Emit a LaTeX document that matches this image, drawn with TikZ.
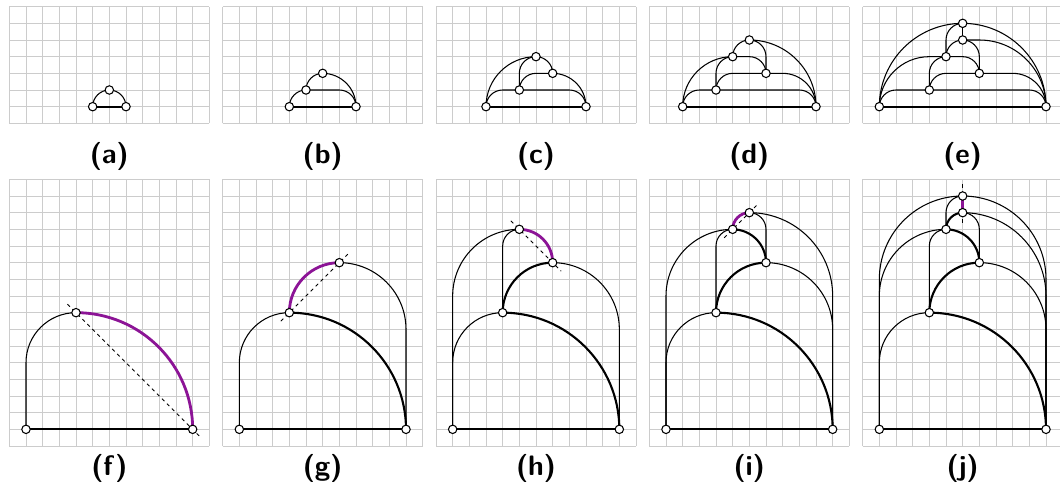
\documentclass[tikz,border=0pt]{standalone}
\pgfdeclarelayer{grid}
\pgfdeclarelayer{edges}
\pgfsetlayers{grid,edges,main}
\definecolor{hot}{RGB}{140,20,150}

\begin{document}
\begin{tikzpicture}[x=2.5mm, y=2.5mm,
    vtx/.style={circle, draw, fill=white, inner sep=0pt, minimum size=3.6pt, line width=0.45pt},
    paper/.style={draw=gray!40, line width=0.4pt, step=1},
    edge/.style={line width=0.45pt},
    bold/.style={line width=0.9pt},
    hotedge/.style={line width=1.2pt, draw=hot},
    guide/.style={dash pattern=on 1.5pt off 1.5pt, line width=0.4pt,
                  shorten <=-1.8mm, shorten >=-1.8mm},
    rad/.style={rounded corners=#1*2.5mm},
    lbl/.style={font=\large\sffamily\bfseries}
]
\useasboundingbox (-0.56,-3.24) rectangle (63.04,26.76);

\begin{scope}[shift={(0,19.36)}, name prefix=a-]
\begin{pgfonlayer}{grid}\draw[paper] (0,0) grid (12,7);\end{pgfonlayer}
\node[vtx] (A) at (5,1) {};
\node[vtx] (B) at (7,1) {};
\node[vtx] (C) at (6,2) {};
\begin{pgfonlayer}{edges}
\draw[edge, rad=1] (C.center) -| (A.center);
\draw[edge, rad=1] (C.center) -| (B.center);
\draw[bold] (A.center) -- (B.center);
\end{pgfonlayer}
\node[lbl] (lab) at (6,-2) {(a)};
\end{scope}

\begin{scope}[shift={(12.8,19.36)}, name prefix=b-]
\begin{pgfonlayer}{grid}\draw[paper] (0,0) grid (12,7);\end{pgfonlayer}
\node[vtx] (A) at (4,1) {};
\node[vtx] (B) at (8,1) {};
\node[vtx] (C) at (5,2) {};
\node[vtx] (D) at (6,3) {};
\begin{pgfonlayer}{edges}
\draw[edge, rad=1] (C.center) -| (A.center);
\draw[edge, rad=1] (C.center) -| (B.center);
\draw[edge, rad=1] (D.center) -| (C.center);
\draw[edge, rad=2] (D.center) -| (B.center);
\draw[bold] (A.center) -- (B.center);
\end{pgfonlayer}
\node[lbl] (lab) at (6,-2) {(b)};
\end{scope}

\begin{scope}[shift={(25.6,19.36)}, name prefix=c-]
\begin{pgfonlayer}{grid}\draw[paper] (0,0) grid (12,7);\end{pgfonlayer}
\node[vtx] (A) at (3,1) {};
\node[vtx] (B) at (9,1) {};
\node[vtx] (C) at (5,2) {};
\node[vtx] (D) at (7,3) {};
\node[vtx] (E) at (6,4) {};
\begin{pgfonlayer}{edges}
\draw[edge, rad=1] (C.center) -| (A.center);
\draw[edge, rad=1] (C.center) -| (B.center);
\draw[edge, rad=1] (D.center) -| (C.center);
\draw[edge, rad=2] (D.center) -| (B.center);
\draw[edge, rad=3] (E.center) -| (A.center);
\draw[edge, rad=1] (E.center) -| (C.center);
\draw[edge, rad=1] (E.center) -| (D.center);
\draw[bold] (A.center) -- (B.center);
\end{pgfonlayer}
\node[lbl] (lab) at (6,-2) {(c)};
\end{scope}

\begin{scope}[shift={(38.4,19.36)}, name prefix=d-]
\begin{pgfonlayer}{grid}\draw[paper] (0,0) grid (12,7);\end{pgfonlayer}
\node[vtx] (A) at (2,1) {};
\node[vtx] (B) at (10,1) {};
\node[vtx] (C) at (4,2) {};
\node[vtx] (D) at (7,3) {};
\node[vtx] (E) at (5,4) {};
\node[vtx] (F) at (6,5) {};
\begin{pgfonlayer}{edges}
\draw[edge, rad=1] (C.center) -| (A.center);
\draw[edge, rad=1] (C.center) -| (B.center);
\draw[edge, rad=1] (D.center) -| (C.center);
\draw[edge, rad=2] (D.center) -| (B.center);
\draw[edge, rad=3] (E.center) -| (A.center);
\draw[edge, rad=1] (E.center) -| (C.center);
\draw[edge, rad=1] (E.center) -| (D.center);
\draw[edge, rad=1] (F.center) -| (E.center);
\draw[edge, rad=1] (F.center) -| (D.center);
\draw[edge, rad=4] (F.center) -| (B.center);
\draw[bold] (A.center) -- (B.center);
\end{pgfonlayer}
\node[lbl] (lab) at (6,-2) {(d)};
\end{scope}

\begin{scope}[shift={(51.2,19.36)}, name prefix=e-]
\begin{pgfonlayer}{grid}\draw[paper] (0,0) grid (12,7);\end{pgfonlayer}
\node[vtx] (A) at (1,1) {};
\node[vtx] (B) at (11,1) {};
\node[vtx] (C) at (4,2) {};
\node[vtx] (D) at (7,3) {};
\node[vtx] (E) at (5,4) {};
\node[vtx] (F) at (6,5) {};
\node[vtx] (G) at (6,6) {};
\begin{pgfonlayer}{edges}
\draw[edge, rad=1] (C.center) -| (A.center);
\draw[edge, rad=1] (C.center) -| (B.center);
\draw[edge, rad=1] (D.center) -| (C.center);
\draw[edge, rad=2] (D.center) -| (B.center);
\draw[edge, rad=3] (E.center) -| (A.center);
\draw[edge, rad=1] (E.center) -| (C.center);
\draw[edge, rad=1] (E.center) -| (D.center);
\draw[edge, rad=1] (F.center) -| (E.center);
\draw[edge, rad=1] (F.center) -| (D.center);
\draw[edge, rad=4] (F.center) -| (B.center);
\draw[edge] (G.center) -- (F.center);
\draw[edge, rad=5] (G.center) -| (A.center);
\draw[edge, rad=5] (G.center) -| (B.center);
\draw[edge, rad=1] (G.center) -| (E.center);
\draw[bold] (A.center) -- (B.center);
\end{pgfonlayer}
\node[lbl] (lab) at (6,-2) {(e)};
\end{scope}

\begin{scope}[name prefix=f-]
\begin{pgfonlayer}{grid}\draw[paper] (0,0) grid (12,16);\end{pgfonlayer}
\node[vtx] (A) at (1,1) {};
\node[vtx] (B) at (11,1) {};
\node[vtx] (C) at (4,8) {};
\begin{pgfonlayer}{edges}
\draw[edge, rad=3] (C.center) -| (A.center);
\draw[guide] (C.center) -- (B.center);
\draw[bold] (A.center) -- (B.center);
\draw[hotedge, rad=7] (C.center) -| (B.center);
\end{pgfonlayer}
\node[lbl] (lab) at (6,-1.32) {(f)};
\end{scope}

\begin{scope}[shift={(12.8,0)}, name prefix=g-]
\begin{pgfonlayer}{grid}\draw[paper] (0,0) grid (12,16);\end{pgfonlayer}
\node[vtx] (A) at (1,1) {};
\node[vtx] (B) at (11,1) {};
\node[vtx] (C) at (4,8) {};
\node[vtx] (D) at (7,11) {};
\begin{pgfonlayer}{edges}
\draw[edge, rad=3] (C.center) -| (A.center);
\draw[edge, rad=4] (D.center) -| (B.center);
\draw[guide] (C.center) -- (D.center);
\draw[bold] (A.center) -- (B.center);
\draw[bold, rad=7] (C.center) -| (B.center);
\draw[hotedge, rad=3] (D.center) -| (C.center);
\end{pgfonlayer}
\node[lbl] (lab) at (6,-1.32) {(g)};
\end{scope}

\begin{scope}[shift={(25.6,0)}, name prefix=h-]
\begin{pgfonlayer}{grid}\draw[paper] (0,0) grid (12,16);\end{pgfonlayer}
\node[vtx] (A) at (1,1) {};
\node[vtx] (B) at (11,1) {};
\node[vtx] (C) at (4,8) {};
\node[vtx] (D) at (7,11) {};
\node[vtx] (E) at (5,13) {};
\begin{pgfonlayer}{edges}
\draw[edge, rad=3] (C.center) -| (A.center);
\draw[edge, rad=4] (D.center) -| (B.center);
\draw[edge, rad=4] (E.center) -| (A.center);
\draw[edge, rad=1] (E.center) -| (C.center);
\draw[guide] (E.center) -- (D.center);
\draw[bold] (A.center) -- (B.center);
\draw[bold, rad=7] (C.center) -| (B.center);
\draw[bold, rad=3] (D.center) -| (C.center);
\draw[hotedge, rad=2] (E.center) -| (D.center);
\end{pgfonlayer}
\node[lbl] (lab) at (6,-1.32) {(h)};
\end{scope}

\begin{scope}[shift={(38.4,0)}, name prefix=i-]
\begin{pgfonlayer}{grid}\draw[paper] (0,0) grid (12,16);\end{pgfonlayer}
\node[vtx] (A) at (1,1) {};
\node[vtx] (B) at (11,1) {};
\node[vtx] (C) at (4,8) {};
\node[vtx] (D) at (7,11) {};
\node[vtx] (E) at (5,13) {};
\node[vtx] (F) at (6,14) {};
\begin{pgfonlayer}{edges}
\draw[edge, rad=3] (C.center) -| (A.center);
\draw[edge, rad=4] (D.center) -| (B.center);
\draw[edge, rad=4] (E.center) -| (A.center);
\draw[edge, rad=1] (E.center) -| (C.center);
\draw[edge, rad=1] (F.center) -| (D.center);
\draw[edge, rad=5] (F.center) -| (B.center);
\draw[guide] (E.center) -- (F.center);
\draw[bold] (A.center) -- (B.center);
\draw[bold, rad=7] (C.center) -| (B.center);
\draw[bold, rad=3] (D.center) -| (C.center);
\draw[bold, rad=2] (E.center) -| (D.center);
\draw[hotedge, rad=1] (F.center) -| (E.center);
\end{pgfonlayer}
\node[lbl] (lab) at (6,-1.32) {(i)};
\end{scope}

\begin{scope}[shift={(51.2,0)}, name prefix=j-]
\begin{pgfonlayer}{grid}\draw[paper] (0,0) grid (12,16);\end{pgfonlayer}
\node[vtx] (A) at (1,1) {};
\node[vtx] (B) at (11,1) {};
\node[vtx] (C) at (4,8) {};
\node[vtx] (D) at (7,11) {};
\node[vtx] (E) at (5,13) {};
\node[vtx] (F) at (6,14) {};
\node[vtx] (G) at (6,15) {};
\begin{pgfonlayer}{edges}
\draw[edge, rad=3] (C.center) -| (A.center);
\draw[edge, rad=4] (D.center) -| (B.center);
\draw[edge, rad=4] (E.center) -| (A.center);
\draw[edge, rad=1] (E.center) -| (C.center);
\draw[edge, rad=1] (F.center) -| (D.center);
\draw[edge, rad=5] (F.center) -| (B.center);
\draw[edge, rad=5] (G.center) -| (A.center);
\draw[edge, rad=5] (G.center) -| (B.center);
\draw[edge, rad=1] (G.center) -| (E.center);
\draw[guide] (G.center) -- (F.center);
\draw[bold] (A.center) -- (B.center);
\draw[bold, rad=7] (C.center) -| (B.center);
\draw[bold, rad=3] (D.center) -| (C.center);
\draw[bold, rad=2] (E.center) -| (D.center);
\draw[bold, rad=1] (F.center) -| (E.center);
\draw[hotedge] (G.center) -- (F.center);
\end{pgfonlayer}
\node[lbl] (lab) at (6,-1.32) {(j)};
\end{scope}

\end{tikzpicture}
\end{document}
